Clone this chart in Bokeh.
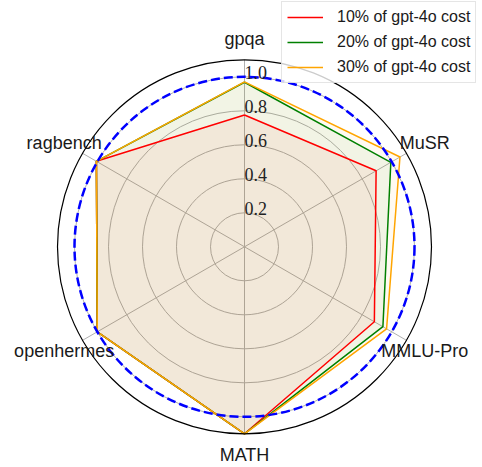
import numpy as np
from bokeh.plotting import figure
from bokeh.models import Legend, LegendItem, Range1d
from bokeh.core.properties import value
from bokeh.embed import file_html
from bokeh.resources import INLINE

categories = ["gpqa", "MuSR", "MMLU-Pro", "MATH", "openhermes", "ragbench"]
series_names = ["10% of gpt-4o cost", "20% of gpt-4o cost", "30% of gpt-4o cost"]
vals_10 = [0.775, 0.894, 0.882, 1.10, 1.000, 1.006]
vals_20 = [0.968, 0.994, 0.940, 1.10, 1.000, 1.006]
vals_30 = [0.970, 1.056, 0.965, 1.10, 1.000, 1.006]
ring_ticks = [0.2, 0.4, 0.6, 0.8, 1.0]
ring_labels = ["0.2", "0.4", "0.6", "0.8", "1.0"]
r_max = 1.1
target_radius = 1.0

W, H = 480, 466
scale = 170.0
cx_px, cy_px_top = 244.0, 246.3

p = figure(width=W, height=H, output_backend="svg", toolbar_location=None,
           x_axis_location=None, y_axis_location=None, min_border=0,
           x_range=Range1d(-cx_px / scale, (W - cx_px) / scale),
           y_range=Range1d(-(H - cy_px_top) / scale, cy_px_top / scale))
p.outline_line_color = None
p.xgrid.visible = False
p.ygrid.visible = False

n = len(categories)
ang = np.deg2rad(90 - 360.0 / n * np.arange(n))

# grid rings
p.circle(x=[0] * len(ring_ticks), y=[0] * len(ring_ticks), radius=ring_ticks,
         fill_color=None, line_color="#b0b0b0", line_width=1)
# spokes
p.segment(x0=[0] * n, y0=[0] * n, x1=list(r_max * np.cos(ang)), y1=list(r_max * np.sin(ang)),
          line_color="#b0b0b0", line_width=1)

colors = ["red", "green", "orange"]
renderers = []
for vals, c in zip([vals_10, vals_20, vals_30], colors):
    v = np.array(vals)
    xs = list(v * np.cos(ang))
    ys = list(v * np.sin(ang))
    p.patch(xs, ys, fill_color=c, fill_alpha=0.05, line_color=None)
for vals, c in zip([vals_10, vals_20, vals_30], colors):
    v = np.array(vals)
    xs = list(v * np.cos(ang)) + [v[0] * np.cos(ang[0])]
    ys = list(v * np.sin(ang)) + [v[0] * np.sin(ang[0])]
    r = p.line(xs, ys, line_color=c, line_width=1.5)
    renderers.append(r)

# target circle
p.circle(x=[0], y=[0], radius=[target_radius], fill_color=None, line_color="blue",
         line_width=2.5, line_dash="9 4")
# outer frame circle
p.circle(x=[0], y=[0], radius=[r_max], fill_color=None, line_color="black", line_width=1.2)

# radial tick labels
p.text(x=[0] * len(ring_ticks), y=ring_ticks, text=ring_labels,
       text_font=value("Liberation Serif"), text_font_size="18px",
       text_color="#222222", text_align="left", text_baseline="alphabetic",
       x_offset=0, y_offset=-4)

# category labels
lab_r = 1.225
p.text(x=list(lab_r * np.cos(ang)), y=list(lab_r * np.sin(ang)), text=categories,
       text_font=value("Liberation Sans"), text_font_size="18px",
       text_color="#1a1a1a", text_align="center", text_baseline="middle")

legend = Legend(items=[LegendItem(label=s, renderers=[r]) for s, r in zip(series_names, renderers)],
                location=(281, H - 83))
legend.label_text_font = "Liberation Sans"
legend.label_text_font_size = "16px"
legend.label_text_color = "#1a1a1a"
legend.glyph_width = 36
legend.glyph_height = 20
legend.label_height = 20
legend.label_standoff = 14
legend.padding = 5
legend.spacing = 5
legend.margin = 0
legend.border_line_color = "#cccccc"
legend.background_fill_alpha = 0.8
p.add_layout(legend)

open("out.html", "w").write(file_html(p, INLINE))
